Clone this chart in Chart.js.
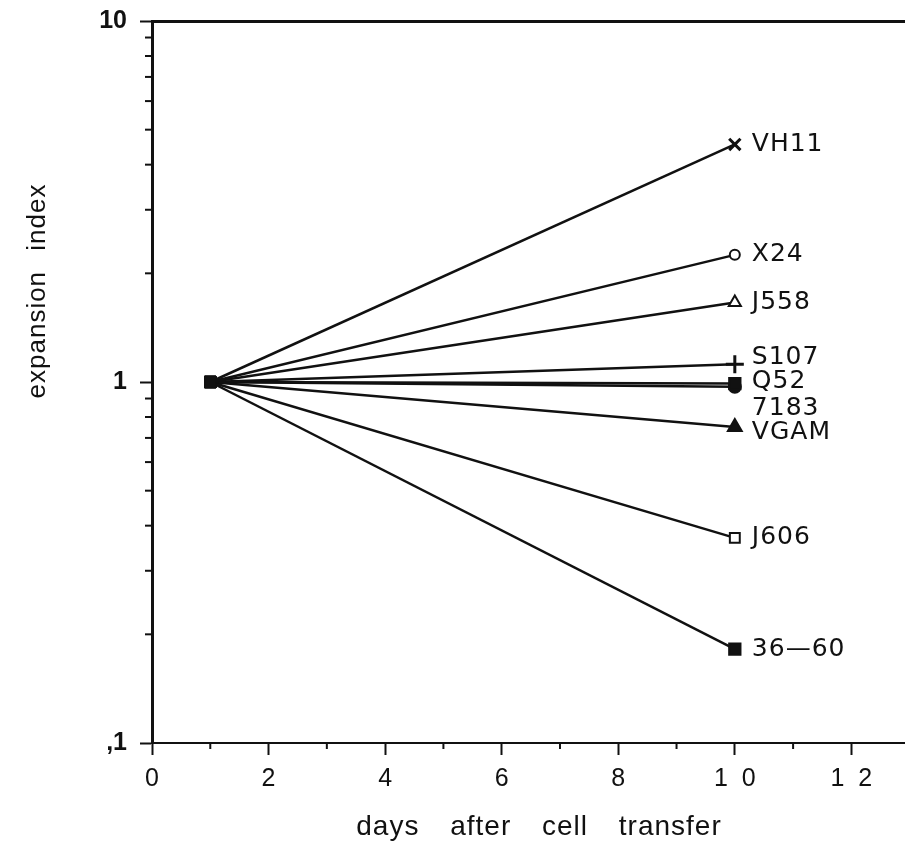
<!DOCTYPE html>
<html>
<head>
<meta charset="utf-8">
<script src="https://cdn.jsdelivr.net/npm/chart.js@4/dist/chart.umd.min.js"></script>
<style>
  html, body { margin: 0; padding: 0; background: #fff; overflow: hidden; }
  canvas { display: block; }
</style>
</head>
<body>
<canvas id="grafico" width="905" height="845"></canvas>
<script>
// dados
const dias = [1, 10];
const linhagens = ["VH11", "X24", "J558", "S107", "Q52", "7183", "VGAM", "J606", "36-60"];
const indiceDia1 = [1, 1, 1, 1, 1, 1, 1, 1, 1];
const indiceDia10 = [4.55, 2.25, 1.66, 1.12, 0.99, 0.97, 0.75, 0.37, 0.182];
const ticksY = [0.1, 1, 10];
const rotulosY = [",1", "1", "10"];
const ticksX = [0, 2, 4, 6, 8, 10, 12];
const rotulosX = ["0", "2", "4", "6", "8", "1  0", "1  2"];

// estilo dos marcadores no dia 10
const marcadores = ["crossRot", "circle", "triangle", "cross", "rect", "circle", "triangle", "rect", "rect"];
const preenchidos = [false, false, false, false, true, true, true, false, true];
const raios = [8, 5, 7, 9, 8, 6, 8, 7, 8];
const deslocRotulo = [0, 0, 0, -7, -2, 22, 5, 0, 0];

const datasets = linhagens.map((nome, i) => ({
  label: nome,
  data: dias.map((d, j) => ({ x: d, y: j === 0 ? indiceDia1[i] : indiceDia10[i] })),
  borderColor: "#111",
  borderWidth: 2.5,
  pointStyle: ["rect", marcadores[i]],
  pointRadius: [8, raios[i]],
  pointBorderWidth: [1, marcadores[i].startsWith("cross") ? 3 : 2],
  pointBorderColor: "#111",
  pointBackgroundColor: ["#111", preenchidos[i] ? "#111" : "#fff"],
  tension: 0,
}));

// tira o espaço extra que o Chart.js reserva para os rótulos
const semPadding = (scale) => {
  scale.paddingTop = 0;
  scale.paddingBottom = 0;
  scale.paddingLeft = 0;
  scale.paddingRight = 0;
};

// ticks menores, rótulos das linhagens e títulos
const extras = {
  id: "extras",
  afterDraw(chart) {
    const ctx = chart.ctx;
    const sx = chart.scales.x;
    const sy = chart.scales.y;
    ctx.save();
    ctx.strokeStyle = "#111";
    ctx.lineWidth = 2;
    // menores do eixo y
    for (let dec = 0.1; dec < 10; dec *= 10) {
      for (let k = 2; k <= 9; k++) {
        const py = sy.getPixelForValue(dec * k);
        ctx.beginPath();
        ctx.moveTo(sx.left - 7, py);
        ctx.lineTo(sx.left, py);
        ctx.stroke();
      }
    }
    // menores do eixo x
    for (let v = 1; v <= 12.92; v += 2) {
      const px = sx.getPixelForValue(v);
      ctx.beginPath();
      ctx.moveTo(px, sy.bottom);
      ctx.lineTo(px, sy.bottom + 6);
      ctx.stroke();
    }
    // rótulos das linhagens
    ctx.fillStyle = "#111";
    ctx.font = "25px 'DejaVu Sans'";
    ctx.letterSpacing = "1px";
    ctx.textBaseline = "middle";
    ctx.textAlign = "left";
    chart.data.datasets.forEach((ds, i) => {
      const pt = chart.getDatasetMeta(i).data[1];
      const txt = ds.label === "36-60" ? "36\u201460" : ds.label;
      ctx.fillText(txt, pt.x + 17, pt.y + deslocRotulo[i]);
    });
    // títulos dos eixos
    ctx.letterSpacing = "1px";
    ctx.font = "28px 'Liberation Sans Narrow', 'Liberation Sans', sans-serif";
    ctx.wordSpacing = "22px";
    ctx.textAlign = "center";
    ctx.fillText("days after cell transfer", 539, 827);
    ctx.translate(38, 291);
    ctx.rotate(-Math.PI / 2);
    ctx.font = "26px 'Liberation Sans', sans-serif";
    ctx.wordSpacing = "12px";
    ctx.fillText("expansion index", 0, 0);
    ctx.restore();
  },
};

new Chart(document.getElementById("grafico"), {
  type: "line",
  data: { datasets },
  options: {
    responsive: false,
    animation: false,
    layout: { autoPadding: false, padding: { top: 21, right: 0, left: 0, bottom: 0 } },
    plugins: { legend: { display: false }, tooltip: { enabled: false } },
    scales: {
      x: {
        type: "linear",
        min: 0,
        max: 12.92,
        afterBuildTicks: (scale) => {
          scale.ticks = ticksX.map((v) => ({ value: v }));
        },
        afterFit: (scale) => {
          scale.height = 102;
          semPadding(scale);
        },
        ticks: {
          color: "#111",
          padding: 9,
          font: { family: "'Liberation Sans Narrow', 'Liberation Sans'", size: 25 },
          callback: (v) => rotulosX[ticksX.indexOf(v)] ?? "",
          maxRotation: 0,
          autoSkip: false,
        },
        grid: { drawOnChartArea: false, tickLength: 12, tickWidth: 2, tickColor: "#111" },
        border: { color: "#111", width: 2 },
      },
      xTopo: {
        type: "linear",
        position: "top",
        min: 0,
        max: 12.92,
        afterFit: (scale) => {
          scale.height = 0;
          semPadding(scale);
        },
        ticks: { display: false },
        grid: { display: false, drawTicks: false },
        border: { display: true, color: "#111", width: 3 },
      },
      y: {
        type: "logarithmic",
        min: 0.1,
        max: 10,
        afterBuildTicks: (scale) => {
          scale.ticks = ticksY.map((v) => ({ value: v }));
        },
        afterFit: (scale) => {
          scale.width = 152;
          semPadding(scale);
        },
        ticks: {
          color: "#111",
          padding: 13,
          font: { family: "'Liberation Sans'", size: 25, weight: "bold" },
          callback: (v) => rotulosY[ticksY.indexOf(v)] ?? "",
        },
        grid: { drawOnChartArea: false, tickLength: 12, tickWidth: 2, tickColor: "#111" },
        border: { color: "#111", width: 3 },
      },
    },
  },
  plugins: [extras],
});
</script>
</body>
</html>
